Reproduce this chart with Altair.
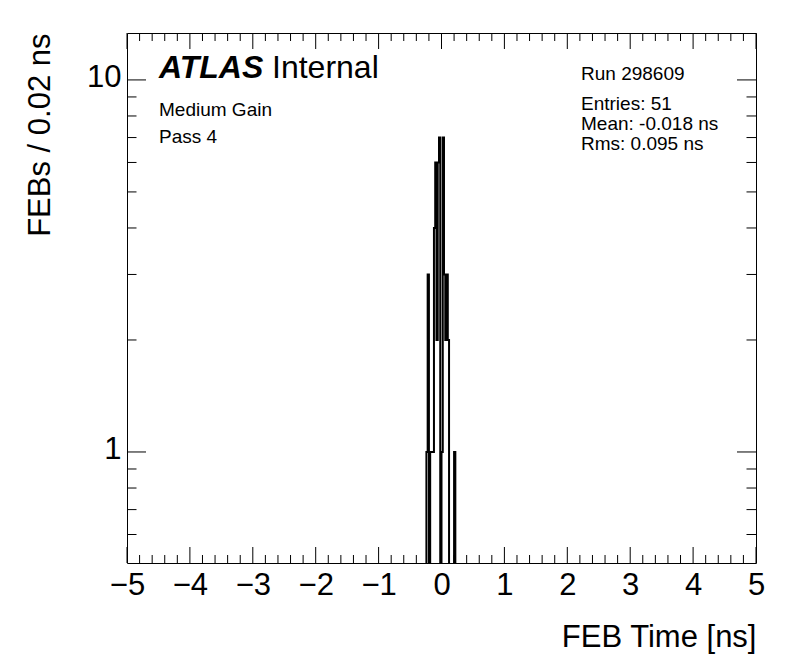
import altair as alt
import pandas as pd
import numpy as np

# ---- data ----
bin_width = 0.02
x_min, x_max = -5.0, 5.0
# non-empty bins: lower edge [ns] and content
bin_low = [-0.24, -0.22, -0.18, -0.16, -0.14, -0.12, -0.10, -0.08, -0.06, -0.04,
           0.00, 0.02, 0.04, 0.06, 0.08, 0.10, 0.20]
bin_cnt = [1, 3, 1, 1, 1, 4, 6, 2, 6, 7,
           1, 7, 3, 2, 3, 2, 1]

x_major = [-5, -4, -3, -2, -1, 0, 1, 2, 3, 4, 5]
y_major = [1, 10]
y_minor = [0.6, 0.7, 0.8, 0.9, 2, 3, 4, 5, 6, 7, 8, 9]
y_domain = [0.503, 13.37]

run_text = "Run 298609"
stats_text = ["Entries: 51", "Mean: -0.018 ns", "Rms: 0.095 ns"]
left_text = ["Medium Gain", "Pass 4"]

# ---- build histogram outline table ----
nbins = int(round((x_max - x_min) / bin_width))
counts = np.zeros(nbins)
for lo, c in zip(bin_low, bin_cnt):
    idx = int(round((lo - x_min) / bin_width))
    counts[idx] = c
floor = 0.3  # empty bins drawn below the frame (clipped), like ROOT log scale
edges = x_min + bin_width * np.arange(nbins + 1)
vals = np.where(counts > 0, counts, floor)
vals = np.append(vals, vals[-1])
hist_df = pd.DataFrame({"x": np.round(edges, 4), "y": vals})

x_minor = [round(v, 2) for v in np.arange(-5, 5.0001, 0.2) if abs(v - round(v)) > 1e-6]

W, H = 629, 530
FONT = "Liberation Sans"

xscale = alt.Scale(domain=[x_min, x_max], nice=False, zero=False)
yscale = alt.Scale(type="log", domain=y_domain, nice=False)

hist = alt.Chart(hist_df).mark_line(
    interpolate="step-after", color="black", strokeWidth=2, clip=True
).encode(
    x=alt.X("x:Q", scale=xscale, axis=alt.Axis(
        values=x_major, format="d", ticks=False, domain=False, grid=False,
        labelFont=FONT, labelFontSize=31, labelColor="black", labelPadding=7,
        labelFlush=False, labelOverlap=False,
        title="FEB Time [ns]", titleFont=FONT, titleFontSize=31,
        titleFontWeight="normal", titleColor="black",
        titleAlign="right", titleX=W, titleY=83, titleBaseline="alphabetic")),
    y=alt.Y("y:Q", scale=yscale, axis=alt.Axis(
        values=y_major, format="d", ticks=False, domain=False, grid=False,
        labelFont=FONT, labelFontSize=31, labelColor="black", labelPadding=6,
        labelOffset=-2,
        title="FEBs / 0.02 ns", titleFont=FONT, titleFontSize=31,
        titleFontWeight="normal", titleColor="black", titleAngle=270,
        titleAlign="right", titleX=-78, titleY=0, titleBaseline="alphabetic")),
)

def xticks(vals_, length, top):
    df = pd.DataFrame({"t": vals_})
    if top:
        enc = dict(y=alt.value(0), y2=alt.value(length))
    else:
        enc = dict(y=alt.value(H), y2=alt.value(H - length))
    return alt.Chart(df).mark_rule(color="black", strokeWidth=1).encode(
        x=alt.X("t:Q", scale=xscale), **enc)

def yticks(vals_, length, right):
    df = pd.DataFrame({"t": vals_})
    if right:
        enc = dict(x=alt.value(W), x2=alt.value(W - length))
    else:
        enc = dict(x=alt.value(0), x2=alt.value(length))
    return alt.Chart(df).mark_rule(color="black", strokeWidth=1).encode(
        y=alt.Y("t:Q", scale=yscale), **enc)

def label(text, x, y, size=19, weight="normal", style="normal"):
    return alt.Chart(pd.DataFrame({"t": [text]})).mark_text(
        font=FONT, fontSize=size, fontWeight=weight, fontStyle=style,
        color="black", align="left", baseline="alphabetic"
    ).encode(text="t:N", x=alt.value(x), y=alt.value(y))

layers = [
    hist,
    xticks(x_major, 16, False), xticks(x_minor, 8, False),
    xticks(x_major, 16, True), xticks(x_minor, 8, True),
    yticks(y_major, 19, False), yticks(y_minor, 9.5, False),
    yticks(y_major, 19, True), yticks(y_minor, 9.5, True),
    label("ATLAS", 32, 45, size=32, weight="bold", style="italic"),
    label("Internal", 145, 45, size=32),
    label(left_text[0], 32, 83),
    label(left_text[1], 32, 110),
    label(run_text, 454, 47),
    label(stats_text[0], 454, 77),
    label(stats_text[1], 454, 97),
    label(stats_text[2], 454, 117),
]

chart = alt.layer(*layers).properties(
    width=W, height=H,
    autosize=alt.AutoSizeParams(type="none"),
    padding={"left": 119, "top": 25, "right": 32, "bottom": 100},
    background="white",
).configure_view(stroke="black", strokeWidth=1)

chart.save("out.html", embed_options={"renderer": "svg", "actions": False})
